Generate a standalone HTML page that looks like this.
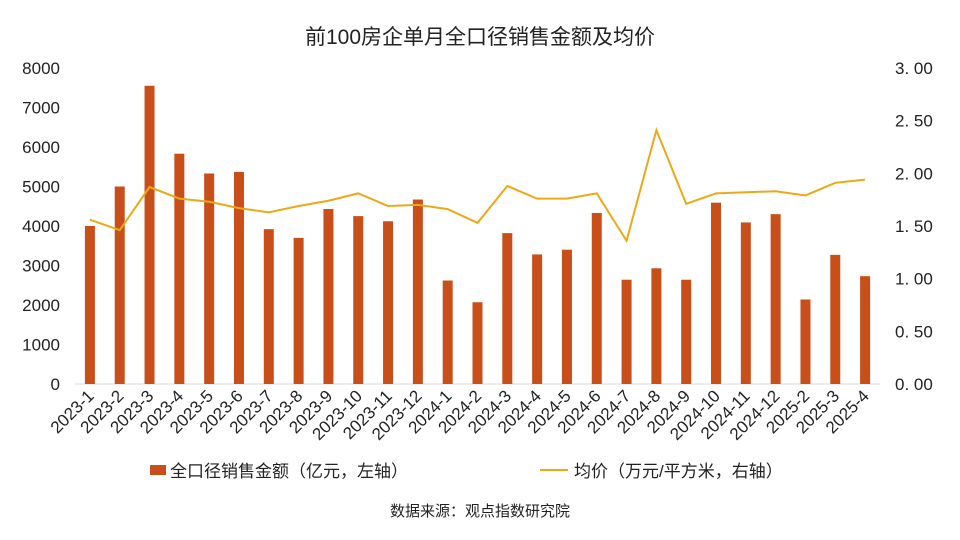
<!DOCTYPE html>
<html><head><meta charset="utf-8">
<style>
body{margin:0;background:#fff;}
svg{display:block;font-family:"Liberation Sans","Noto Sans CJK SC",sans-serif;}
</style></head>
<body>
<svg id="chart" width="960" height="540" viewBox="0 0 960 540">
<text x="480" y="44" text-anchor="middle" font-size="21" fill="#222">前100房企单月全口径销售金额及均价</text>
<g id="axes"></g>
<g id="bars"></g>
<g id="line"></g>
<g>
<g>
<rect x="150" y="465" width="16" height="10" fill="#C84F1A"/>
<text x="170" y="477" font-size="17" fill="#222">全口径销售金额（亿元，左轴）</text></g>
<g>
<line x1="540" y1="470" x2="568" y2="470" stroke="#EBA918" stroke-width="2"/>
<text x="574" y="477" font-size="17" fill="#222">均价（万元/平方米，右轴）</text></g>
</g>
<text x="480" y="516" text-anchor="middle" font-size="15" fill="#222">数据来源：观点指数研究院</text>
</svg>
<script>
const categories=["2023-1","2023-2","2023-3","2023-4","2023-5","2023-6","2023-7","2023-8","2023-9","2023-10","2023-11","2023-12","2024-1","2024-2","2024-3","2024-4","2024-5","2024-6","2024-7","2024-8","2024-9","2024-10","2024-11","2024-12","2025-2","2025-3","2025-4"];
const salesValues=[4000,5000,7550,5830,5330,5370,3920,3700,4430,4250,4120,4670,2620,2070,3820,3280,3400,4330,2640,2930,2640,4590,4090,4300,2140,3270,2730];
const priceValues=[1.56,1.46,1.87,1.76,1.73,1.67,1.63,1.69,1.74,1.81,1.69,1.70,1.66,1.53,1.88,1.76,1.76,1.81,1.36,2.41,1.71,1.81,1.82,1.83,1.79,1.91,1.94];
const leftTicks=[0,1000,2000,3000,4000,5000,6000,7000,8000];
const rightTicks=["0.00","0.50","1.00","1.50","2.00","2.50","3.00"];
const NS="http://www.w3.org/2000/svg";
const L=75,R=880,T=68,B=384;
const bw=(R-L)/categories.length;
const xC=i=>L+bw*(i+0.5);
const yL=v=>B-(v/8000)*(B-T);
const yR=v=>B-(v/3)*(B-T);
function mk(tag,attrs,parent){const e=document.createElementNS(NS,tag);for(const k in attrs)e.setAttribute(k,attrs[k]);parent.appendChild(e);return e;}
const axes=document.getElementById('axes');
const base=mk('line',{x1:L,x2:R,y1:B,y2:B,stroke:'#d9d9d9','stroke-width':1},axes);


leftTicks.forEach(t=>{const e=mk('text',{x:60,y:yL(t)+6,'text-anchor':'end','font-size':17,fill:'#222'},axes);e.textContent=t;

});
rightTicks.forEach(t=>{const e=mk('text',{x:895,y:yR(parseFloat(t))+6,'font-size':17,fill:'#222'},axes);e.textContent=t.replace('.','. ');

});
categories.forEach((c,i)=>{const x=xC(i)+5,y=B+13;const e=mk('text',{x:x,y:y,'text-anchor':'end','font-size':17,fill:'#222',transform:`rotate(-45 ${x} ${y})`},axes);e.textContent=c;

});
const bars=document.getElementById('bars');
salesValues.forEach((v,i)=>{const r=mk('rect',{x:xC(i)-5,y:yL(v),width:10,height:B-yL(v),fill:'#C84F1A'},bars);

});
const lg=document.getElementById('line');
const p=mk('polyline',{points:priceValues.map((v,i)=>xC(i)+','+yR(v)).join(' '),fill:'none',stroke:'#EBA918','stroke-width':2},lg);


</script>
</body></html>
